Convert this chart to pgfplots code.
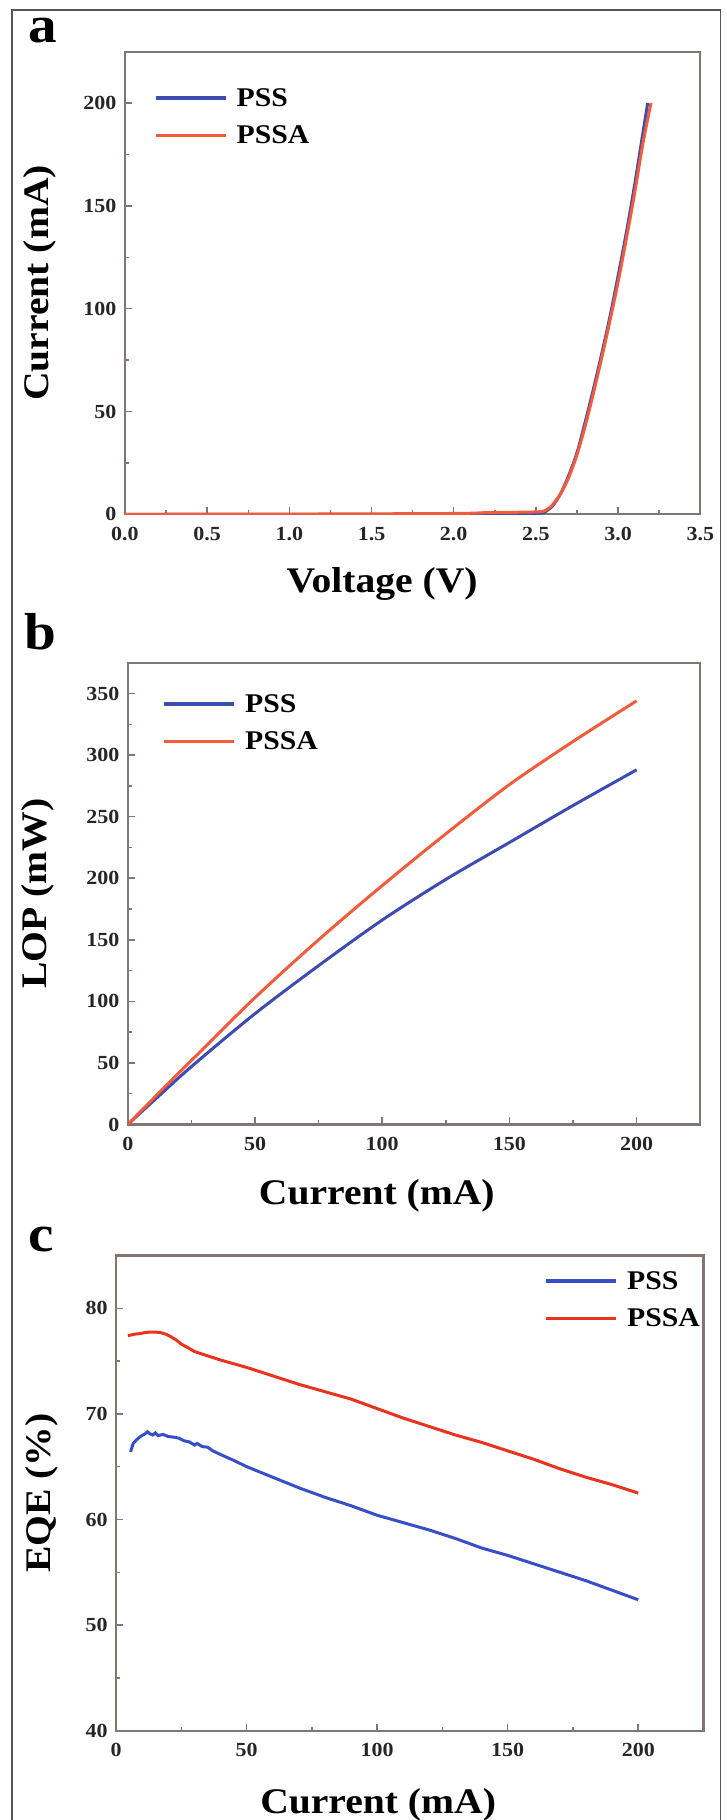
\documentclass[border=0pt]{standalone}
\usepackage{fontspec}
\setmainfont[FakeStretch=1.1]{Liberation Serif}
\usepackage{pgfplots}
\pgfplotsset{compat=1.18}

\definecolor{pssblue}{RGB}{60,76,176}
\definecolor{pssared}{RGB}{240,92,60}
\definecolor{cblue}{RGB}{56,78,200}
\definecolor{cred}{RGB}{232,52,30}
\definecolor{axgray}{RGB}{128,118,116}
\definecolor{framegray}{RGB}{85,85,85}

\pgfplotsset{
  myaxis/.style={
    scale only axis,
    anchor=south west,
    axis line style={axgray, line width=2.2pt},
    tick style={axgray, line width=1.5pt},
    major tick length=7pt, minor tick length=4pt,
    tick align=inside,
    xtick pos=bottom, ytick pos=left,
    minor x tick num=1, minor y tick num=1,
    /pgf/number format/assume math mode=true,
    tick label style={font=\fontsize{20}{24}\selectfont\bfseries, text=black!85},
    xticklabel style={yshift=-9pt},
    yticklabel style={xshift=-5pt},
    label style={font=\fontsize{36}{40}\selectfont\bfseries},
    legend style={draw=none, fill=none, font=\fontsize{27}{30}\selectfont\bfseries,
      row sep=18pt, column sep=9pt, inner sep=0pt, nodes={inner sep=0pt}},
    legend cell align=left,
    legend image code/.code={\draw[##1, line width=3.5pt] (0pt,0pt) -- (70pt,0pt);},
    every axis plot/.append style={line width=3pt},
  }
}

\begin{document}
\begin{tikzpicture}[x=1pt,y=1pt]
\useasboundingbox (0,0) rectangle (727,1820);
\draw[framegray, line width=1.8pt] (11.7,-2) -- (11.7,1810) -- (720.5,1810) -- (720.5,-2);

\node[anchor=base west, inner sep=0pt, font=\fontsize{52}{56}\selectfont\bfseries] at (28,1777) {a};
\node[anchor=base west, inner sep=0pt, font=\fontsize{52}{56}\selectfont\bfseries] at (24,1170) {b};
\node[anchor=base west, inner sep=0pt, font=\fontsize{52}{56}\selectfont\bfseries] at (28,568) {c};

% ---------- a ----------
\begin{axis}[myaxis, at={(125pt,1305.7pt)}, width=575.3pt, height=462.6pt,
  xmin=0, xmax=3.5, ymin=0, ymax=225,
  xtick={0,0.5,1,1.5,2,2.5,3,3.5}, ytick={0,50,100,150,200},
  x tick label style={/pgf/number format/.cd, fixed, fixed zerofill, precision=1, /tikz/.cd},
  xlabel={Voltage (V)}, ylabel={Current (mA)},
  xlabel style={at={(axis description cs:0.447,-0.1686)}, anchor=base},
  ylabel style={at={(axis description cs:-0.148,0.5)}, anchor=center},
  legend style={at={(axis description cs:0.0504,0.9215)}, anchor=north west}]
\addplot[pssblue, smooth] coordinates {(0,0)(0.5,0)(1,0)(1.5,0)(2,0.05)(2.3,0.2)(2.5,0.5)(2.55,1)(2.6,4)(2.65,10)(2.7,19)(2.75,30)(2.8,45)(2.85,61)(2.9,78)(2.95,96)(3.0,116)(3.05,137)(3.1,160)(3.15,185)(3.18,200)};
\addlegendentry{PSS}
\addplot[pssared, smooth] coordinates {(0,0)(1,0.1)(2,0.4)(2.2,0.8)(2.4,1.0)(2.53,1.3)(2.57,2.5)(2.6,4.5)(2.65,10)(2.7,18)(2.75,29)(2.8,43)(2.85,59)(2.9,76)(2.95,94)(3.0,113)(3.05,134)(3.1,156)(3.15,180)(3.2,200)};
\addlegendentry{PSSA}
\end{axis}

% ---------- b ----------
\begin{axis}[myaxis, at={(127.8pt,695.5pt)}, width=572.4pt, height=461.8pt,
  xmin=0, xmax=225, ymin=0, ymax=375,
  xtick={0,50,100,150,200}, ytick={0,50,...,350},
  xlabel={Current (mA)}, ylabel={LOP (mW)},
  xlabel style={at={(axis description cs:0.435,-0.173)}, anchor=base},
  ylabel style={at={(axis description cs:-0.158,0.5)}, anchor=center},
  legend style={at={(axis description cs:0.0606,0.932)}, anchor=north west}]
\addplot[pssblue, smooth] coordinates {(0,0)(10,19)(25,47)(50,90)(75,129)(100,166)(125,199)(150,229)(175,259)(200,288)};
\addlegendentry{PSS}
\addplot[pssared, smooth] coordinates {(0,0)(10,21)(25,52)(50,103)(75,150)(100,194)(125,236)(150,276)(175,311)(200,344)};
\addlegendentry{PSSA}
\end{axis}

% ---------- c ----------
\begin{axis}[myaxis, at={(116.2pt,89.3pt)}, width=587.3pt, height=475.2pt,
  xmin=0, xmax=225, ymin=40, ymax=85,
  xtick={0,50,100,150,200}, ytick={40,50,60,70,80},
  xlabel={Current (mA)}, ylabel={EQE (\%)},
  xlabel style={at={(axis description cs:0.446,-0.175)}, anchor=base},
  ylabel style={at={(axis description cs:-0.126,0.5)}, anchor=center},
  legend style={at={(axis description cs:0.994,0.967)}, anchor=north east}]
\addplot[cblue] coordinates {(5.5,66.4)(6.5,67.2)(8,67.6)(9.5,67.9)(11,68.1)(12,68.3)(13,68.1)(14,68.0)(15,68.2)(16,67.95)(18,68.05)(20,67.85)(22,67.8)(24,67.7)(26,67.45)(28,67.35)(30,67.05)(31,67.2)(33,66.9)(35,66.85)(37,66.5)(40,66.15)(45,65.6)(50,65.0)(60,64.0)(70,63.0)(80,62.1)(90,61.3)(100,60.4)(110,59.7)(120,59.0)(130,58.2)(140,57.3)(150,56.6)(160,55.8)(170,55.0)(180,54.2)(190,53.3)(200,52.4)};
\addlegendentry{PSS}
\addplot[cred] coordinates {(4.5,77.4)(7,77.55)(9,77.6)(11,77.7)(13,77.75)(15,77.75)(17,77.7)(19,77.55)(21,77.3)(23,77.0)(25,76.6)(28,76.2)(30,75.9)(35,75.5)(40,75.1)(45,74.75)(50,74.4)(60,73.6)(70,72.8)(80,72.1)(90,71.4)(100,70.5)(110,69.6)(120,68.8)(130,68.0)(140,67.3)(150,66.5)(160,65.7)(170,64.8)(180,64.0)(190,63.3)(200,62.5)};
\addlegendentry{PSSA}
\end{axis}
\end{tikzpicture}
\end{document}
